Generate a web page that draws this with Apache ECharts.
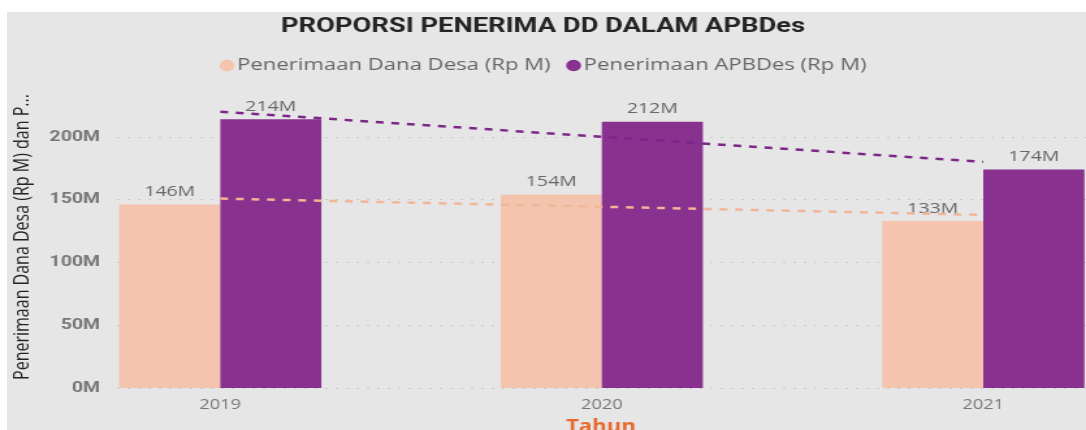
<!DOCTYPE html>
<html>
<head>
<meta charset="utf-8">
<script src="https://cdn.jsdelivr.net/npm/echarts@6/dist/echarts.min.js"></script>
<style>
  html, body { margin: 0; padding: 0; background: #fff; }
  #bg { position: absolute; left: 7px; top: 12px; width: 1079px; height: 418px; background: #e6e6e6; }
  #main { position: absolute; left: 0; top: 0; width: 835px; height: 430px; transform: scaleX(1.3006); transform-origin: 0 0; }
</style>
</head>
<body>
<div id="bg"></div>
<div id="main"></div>
<script>
const years = ['2019', '2020', '2021']
const danaDesa = [146, 154, 133]
const apbdes = [214, 212, 174]
// trend lines as drawn in the picture
const trendDanaDesa = [150.8, 144.3, 137.8]
const trendApbdes = [220, 200, 180]
const yTicks = [0, 50, 100, 150, 200]

const peach = '#f4c4ae'
const purple = '#88318f'
const circle = 'path://M50,0A50,50,0,1,1,50,100A50,50,0,1,1,50,0Z'

const chart = echarts.init(document.getElementById('main'))
chart.setOption({
  backgroundColor: 'transparent',
  animation: false,
  title: {
    text: 'PROPORSI PENERIMA DD DALAM APBDes',
    left: 'center',
    top: 11,
    textStyle: { fontFamily: 'Roboto', fontWeight: 'bold', fontSize: 21, color: '#252423' }
  },
  legend: {
    top: 52,
    left: 'center',
    itemGap: 12,
    itemWidth: 11.5,
    itemHeight: 15,
    data: [
      { name: 'Penerimaan Dana Desa (Rp M)', icon: circle },
      { name: 'Penerimaan APBDes (Rp M)', icon: circle }
    ],
    textStyle: { fontFamily: 'Open Sans', fontSize: 17, color: '#666', padding: [0, 0, 0, -3] }
  },
  graphic: [
    {
      type: 'text',
      x: 17,
      y: 237,
      rotation: Math.PI / 2,
      style: {
        text: 'Penerimaan Dana Desa (Rp M) dan P...',
        fontFamily: 'Open Sans',
        fontSize: 16,
        fill: '#252423',
        align: 'center',
        verticalAlign: 'middle'
      }
    },
    {
      type: 'text',
      x: 462,
      y: 427,
      style: {
        text: 'Tahun',
        fontFamily: 'Open Sans',
        fontWeight: 'bold',
        fontSize: 17,
        fill: '#e8692e',
        align: 'center',
        verticalAlign: 'middle'
      }
    }
  ],
  grid: [
    { left: 22.7, top: 74, width: 880, height: 314, outerBoundsMode: 'none' },
    { left: 90, top: 136.8, right: 0, height: 251.2, outerBoundsMode: 'none' }
  ],
  xAxis: [
    {
      type: 'category',
      gridIndex: 0,
      data: years,
      axisLine: { show: false },
      axisTick: { show: false },
      axisLabel: { margin: 10, fontFamily: 'Open Sans', fontSize: 14, color: '#777' }
    },
    { type: 'value', gridIndex: 1, show: false }
  ],
  yAxis: [
    { type: 'value', gridIndex: 0, min: 0, max: 250, show: false },
    {
      type: 'value',
      gridIndex: 1,
      min: 0,
      max: 200,
      interval: 50,
      axisLine: { show: false },
      axisTick: { show: false },
      axisLabel: {
        margin: 13,
        fontFamily: 'Roboto',
        fontWeight: 'bold',
        fontSize: 15,
        color: '#777',
        formatter: v => yTicks.includes(v) ? v + 'M' : ''
      },
      splitLine: { lineStyle: { color: '#cacaca', type: [2, 6], width: 1 } }
    }
  ],
  series: [
    {
      name: 'Penerimaan Dana Desa (Rp M)',
      type: 'bar',
      data: danaDesa,
      barGap: '0%',
      barCategoryGap: '47%',
      itemStyle: { color: peach },
      label: {
        show: true,
        position: 'top',
        distance: 5,
        formatter: p => p.value + 'M',
        fontFamily: 'Open Sans',
        fontSize: 15,
        color: '#666'
      }
    },
    {
      name: 'Penerimaan APBDes (Rp M)',
      type: 'bar',
      data: apbdes,
      itemStyle: { color: purple },
      label: {
        show: true,
        position: 'top',
        distance: 5,
        formatter: p => p.value + 'M',
        fontFamily: 'Open Sans',
        fontSize: 15,
        color: '#666'
      }
    },
    {
      type: 'line',
      data: trendDanaDesa,
      symbol: 'none',
      z: 5,
      lineStyle: { color: '#f0b696', width: 2.5, type: [6, 6] }
    },
    {
      type: 'line',
      data: trendApbdes,
      symbol: 'none',
      z: 5,
      lineStyle: { color: '#7d2588', width: 2.5, type: [6, 6] }
    }
  ]
})
</script>
</body>
</html>
